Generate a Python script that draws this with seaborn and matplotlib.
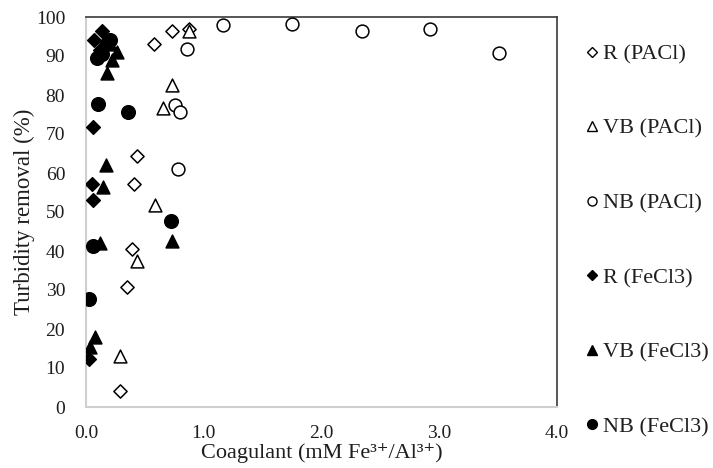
import matplotlib
matplotlib.use("Agg")
import matplotlib.pyplot as plt
import seaborn as sns
import pandas as pd
from matplotlib.lines import Line2D

# ---- data ----
r_pacl_x = [0.73, 0.58, 0.875, 0.43, 0.41, 0.39, 0.345, 0.29]
r_pacl_y = [96.5, 93.0, 97.0, 64.4, 57.3, 40.4, 30.7, 4.1]

vb_pacl_x = [0.73, 0.65, 0.875, 0.59, 0.43, 0.29]
vb_pacl_y = [82.6, 76.6, 96.5, 51.7, 37.5, 13.1]

nb_pacl_x = [1.16, 1.75, 2.34, 2.92, 3.51, 0.86, 0.76, 0.80, 0.78]
nb_pacl_y = [97.9, 98.2, 96.5, 96.8, 90.7, 91.8, 77.4, 75.6, 60.9]

r_fecl3_x = [0.14, 0.07, 0.17, 0.12, 0.062, 0.048, 0.062, 0.028]
r_fecl3_y = [96.5, 94.0, 93.5, 91.5, 71.7, 57.3, 53.2, 12.2]

vb_fecl3_x = [0.26, 0.22, 0.18, 0.20, 0.17, 0.147, 0.12, 0.73, 0.076, 0.034]
vb_fecl3_y = [91.1, 89.0, 85.7, 93.0, 62.0, 56.5, 42.0, 42.6, 17.9, 15.3]

nb_fecl3_x = [0.10, 0.36, 0.72, 0.062, 0.028, 0.09, 0.14, 0.20]
nb_fecl3_y = [77.7, 75.6, 47.7, 41.3, 27.6, 89.5, 90.5, 94.0]

series_names = ["R (PACl)", "VB (PACl)", "NB (PACl)", "R (FeCl3)", "VB (FeCl3)", "NB (FeCl3)"]
x_ticks = [0.0, 1.0, 2.0, 3.0, 4.0]
x_tick_labels = ["0.0", "1.0", "2.0", "3.0", "4.0"]
y_ticks = [0, 10, 20, 30, 40, 50, 60, 70, 80, 90, 100]

series_data = [
    (r_pacl_x, r_pacl_y), (vb_pacl_x, vb_pacl_y), (nb_pacl_x, nb_pacl_y),
    (r_fecl3_x, r_fecl3_y), (vb_fecl3_x, vb_fecl3_y), (nb_fecl3_x, nb_fecl3_y),
]

# ---- styles ----
styles = {
    "R (PACl)":   dict(marker="D", fc="white", s=45, ms=5.5),
    "VB (PACl)":  dict(marker="^", fc="white", s=85, ms=7),
    "NB (PACl)":  dict(marker="o", fc="white", s=85, ms=6.5),
    "R (FeCl3)":  dict(marker="D", fc="black", s=48, ms=5.5),
    "VB (FeCl3)": dict(marker="^", fc="black", s=85, ms=7),
    "NB (FeCl3)": dict(marker="o", fc="black", s=95, ms=7),
}

sns.set_style("white")
plt.rcParams["font.family"] = ["Liberation Serif", "DejaVu Serif"]

TXT = "#1e1e1e"
fig = plt.figure(figsize=(7.13, 4.68), dpi=100)
ax = fig.add_axes([86/713, 1-407/468, (557-86)/713, (407-17)/468])

for name, (xs, ys) in zip(series_names, series_data):
    df = pd.DataFrame({"x": xs, "y": ys})
    st = styles[name]
    sns.scatterplot(data=df, x="x", y="y", ax=ax, marker=st["marker"], s=st["s"],
                    facecolor=st["fc"], edgecolor="black", linewidth=1.1, zorder=3,
                    legend=False)

ax.set_xlim(0, 4.0)
ax.set_ylim(0, 100)
ax.set_xticks(x_ticks)
ax.set_xticklabels(x_tick_labels)
ax.set_yticks(y_ticks)

for side in ["left", "bottom"]:
    ax.spines[side].set_color("#cfcfcf")
    ax.spines[side].set_linewidth(1.5)
for side in ["top", "right"]:
    ax.spines[side].set_color("#3a3a3a")
    ax.spines[side].set_linewidth(1.2)
    ax.spines[side].set_visible(True)

ax.tick_params(axis="both", which="both", direction="out", length=6, width=1.2,
               color="#cfcfcf", labelsize=14, labelcolor=TXT)
ax.tick_params(axis="y", pad=9)
ax.tick_params(axis="x", pad=7)

ax.set_xlabel("Coagulant (mM Fe³⁺/Al³⁺)", fontsize=16, color=TXT, labelpad=1)
ax.set_ylabel("Turbidity removal (%)", fontsize=16.5, color=TXT)
ax.yaxis.set_label_coords(-0.108, 0.5)

handles = []
for name in series_names:
    st = styles[name]
    handles.append(Line2D([], [], linestyle="none", marker=st["marker"],
                          markerfacecolor=st["fc"], markeredgecolor="black",
                          markeredgewidth=1.0, markersize=st["ms"]))
leg = fig.legend(handles, series_names, loc="center left",
                 bbox_to_anchor=(585/713, 1-240.5/468),
                 frameon=False, fontsize=16, labelspacing=2.43, handlelength=0.6,
                 handletextpad=0.2, borderaxespad=0, borderpad=0)
for t in leg.get_texts():
    t.set_color(TXT)

fig.savefig("out.png", dpi=100)
